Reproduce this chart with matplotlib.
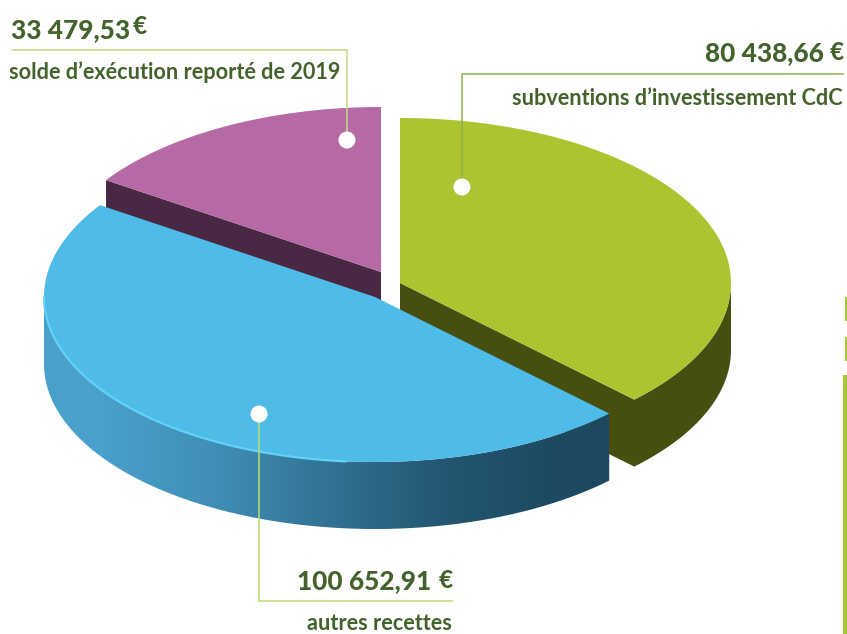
import numpy as np
import matplotlib
matplotlib.use("Agg")
import matplotlib.pyplot as plt
from matplotlib.patches import Polygon, Circle, PathPatch
from matplotlib.path import Path

values = [80438.66, 100652.91, 33479.53]
amounts = ["80 438,66", "100 652,91", "33 479,53"]
labels = ["subventions d’investissement CdC", "autres recettes", "solde d’exécution reporté de 2019"]
top_colors = ["#adc430", "#4fbbe8", "#b56aa6"]
side_colors = ["#464f10", "#1f4f67", "#492843"]
centers = [(400, 283), (375, 297), (381, 272)]

W, H = 847, 634
RX, RY = 331, 165
DEPTH = 67
TEXT = "#44622c"


def arc(center, a1, a2, n=200):
    t = np.radians(np.linspace(a1, a2, n))
    return np.column_stack([center[0] + RX * np.cos(t), center[1] - RY * np.sin(t)])


# slice angles clockwise from the top
angles = 360 * np.array(values) / sum(values)
ends = 90 - np.cumsum(angles)
starts = ends + angles

fig = plt.figure(figsize=(W / 100, H / 100), dpi=100)
ax = fig.add_axes([0, 0, 1, 1])
ax.set_xlim(0, W)
ax.set_ylim(H, 0)
ax.axis("off")

# purple slice goes behind everything else
c = centers[2]
edge = arc(c, starts[2], ends[2])
far = edge[0]
ax.add_patch(Polygon([c, far, far + [0, DEPTH], np.array(c) + [0, DEPTH]], color=side_colors[2], lw=0))
ax.add_patch(Polygon(np.vstack([[c], edge]), color=top_colors[2], lw=0))

# green slice
c = centers[0]
edge = arc(c, starts[0], ends[0])
p = edge[-1]
rim = arc(c, 0, ends[0])
wall = np.vstack([[c], p, rim[::-1], (rim + [0, DEPTH]), [np.array(c) + [0, DEPTH]]])
ax.add_patch(Polygon(wall, color=side_colors[0], lw=0))
ax.add_patch(Polygon(np.vstack([[c], edge]), color=top_colors[0], lw=0))

# blue slice, front wall has a horizontal gradient
c = centers[1]
rim = arc(c, -180, ends[0])
wall = np.vstack([rim, (rim + [0, DEPTH])[::-1]])
grad = np.array([[[0.29, 0.63, 0.80], [0.25, 0.56, 0.72], [0.20, 0.45, 0.58],
                  [0.14, 0.34, 0.45], [0.11, 0.29, 0.38]]])
im = ax.imshow(grad, extent=(43, 610, H, 0), aspect="auto", interpolation="bilinear", zorder=2)
im.set_clip_path(PathPatch(Path(np.vstack([wall, wall[:1]])), transform=ax.transData))
ax.set_xlim(0, W)
ax.set_ylim(H, 0)
top = np.vstack([[c], arc(c, starts[1], ends[1])])
ax.add_patch(Polygon(top, color=top_colors[1], lw=0, zorder=3))
glow = arc(c, -180, -95)
ax.plot(glow[:, 0], glow[:, 1], color="#62d2f6", lw=1.6, zorder=3, solid_capstyle="round")

# leader lines and dots
ax.plot([12, 347, 347], [50, 50, 132], color="#c3dc80", lw=1.1, zorder=4)
ax.plot([843, 462, 462], [74, 74, 180], color="#8fb04a", lw=1.1, zorder=4)
ax.plot([259, 259, 452], [420, 601, 601], color="#bcdc70", lw=1.1, zorder=4)
for x, y in [(347, 140), (462, 187), (259, 414)]:
    ax.add_patch(Circle((x, y), 8.5, color="white", lw=0, zorder=5))

# bars at the right border
for y0, y1, x0 in [(297, 321, 845), (337, 361, 845), (375, 634, 843)]:
    ax.fill_between([x0, W], y0, y1, color="#a6c93c", lw=0)

# texts
font = "Lato"
big = dict(family=font, fontweight="black", fontsize=18.9, color=TEXT, va="baseline")
small = dict(family=font, fontweight="bold", fontsize=15.6, color=TEXT, va="baseline")
euro = dict(family=font, fontweight="black", fontsize=17.5, color=TEXT, va="baseline")

ax.text(11, 38, amounts[2], ha="left", **big)
ax.text(133, 34, "€", ha="left", **euro)
ax.text(9, 79, labels[2], ha="left", **small)

ax.text(824, 61, amounts[0], ha="right", **big)
ax.text(844, 60, "€", ha="right", **euro)
ax.text(843, 105, labels[0], ha="right", **small)

ax.text(431, 589, amounts[1], ha="right", **big)
ax.text(453, 588, "€", ha="right", **euro)
ax.text(452, 630, labels[1], ha="right", **small)

fig.savefig("out.png", dpi=100)
